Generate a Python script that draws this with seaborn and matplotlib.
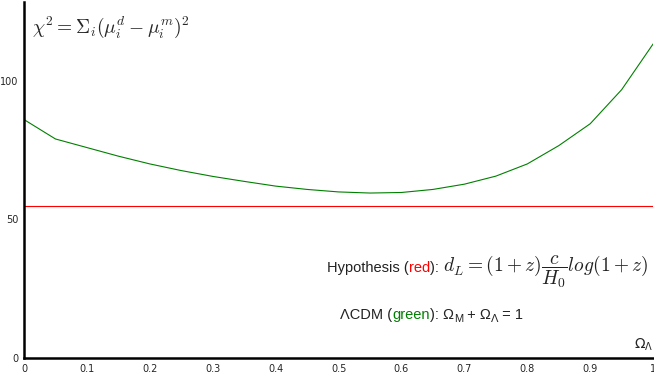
import matplotlib
matplotlib.use("Agg")
import matplotlib.pyplot as plt
import pandas as pd
import seaborn as sns

# chi^2 of the LCDM fit vs Omega_Lambda, and of the hypothesis (flat)
omega_lambda = [0.0, 0.05, 0.1, 0.15, 0.2, 0.25, 0.3, 0.35, 0.4, 0.45, 0.5,
                0.55, 0.6, 0.65, 0.7, 0.75, 0.8, 0.85, 0.9, 0.95, 1.0]
chi2_lcdm = [86.0, 79.0, 75.9, 72.8, 70.0, 67.6, 65.5, 63.7, 62.0, 60.8, 59.9,
             59.5, 59.7, 60.8, 62.7, 65.6, 70.0, 76.6, 84.5, 96.8, 113.3]
chi2_hypothesis = [55.0] * len(omega_lambda)

x_ticks = [0, 0.1, 0.2, 0.3, 0.4, 0.5, 0.6, 0.7, 0.8, 0.9, 1]
x_tick_labels = ["0", "0.1", "0.2", "0.3", "0.4", "0.5", "0.6", "0.7", "0.8", "0.9", "1"]
y_ticks = [0, 50, 100]

df = pd.DataFrame({"omega": omega_lambda, "lcdm": chi2_lcdm, "hyp": chi2_hypothesis})

sns.set_style("white")
plt.rcParams["mathtext.fontset"] = "cm"

fig = plt.figure(figsize=(6.54, 3.77), dpi=100)
ax = fig.add_axes([0.0367, 0.0504, 0.962, 0.945])

sns.lineplot(data=df, x="omega", y="hyp", color="red", linewidth=0.8, ax=ax)
sns.lineplot(data=df, x="omega", y="lcdm", color="green", linewidth=0.8, ax=ax)

ax.set_xlim(0, 1)
ax.set_ylim(0, 128.5)
ax.set_xticks(x_ticks)
ax.set_xticklabels(x_tick_labels)
ax.set_yticks(y_ticks)
ax.tick_params(length=0, labelsize=7, pad=4)
ax.set_xlabel("")
ax.set_ylabel("")
for side in ["top", "right"]:
    ax.spines[side].set_visible(False)
for side in ["left", "bottom"]:
    ax.spines[side].set_color("black")
    ax.spines[side].set_linewidth(1.8)

ax.text(0.012, 0.965, r"$\chi^2 = \Sigma_i(\mu_i^d - \mu_i^m)^2$",
        transform=ax.transAxes, fontsize=14, va="top", ha="left")
ax.text(1.0, 0.015, r"$\Omega_\Lambda$", transform=ax.transAxes,
        fontsize=10, ha="right", va="bottom", family="DejaVu Sans",
        math_fontfamily="dejavusans")


def colored_line(x, y, parts):
    # draw text pieces one after another on the same baseline
    fig.canvas.draw()
    renderer = fig.canvas.get_renderer()
    x0, y0 = ax.transAxes.transform((x, y))
    for s, color, size, math_font, dy in parts:
        t = fig.text(x0 / fig.dpi / fig.get_figwidth(),
                     (y0 + dy) / fig.dpi / fig.get_figheight(),
                     s, color=color, fontsize=size, va="baseline", ha="left",
                     family="Liberation Sans", math_fontfamily=math_font)
        bb = t.get_window_extent(renderer)
        x0 = bb.x1


dark = "#222222"
colored_line(0.482, 0.24, [
    ("Hypothesis (", dark, 10.5, "dejavusans", 0),
    ("red", "red", 10.5, "dejavusans", 0),
    ("): ", dark, 10.5, "dejavusans", 0),
    (r"$d_L = (1+z)\dfrac{c}{H_0}log(1+z)$", dark, 14, "cm", 0),
])
colored_line(0.503, 0.11, [
    ("\u039bCDM (", dark, 10.5, "dejavusans", 0),
    ("green", "green", 10.5, "dejavusans", 0),
    ("): \u03a9", dark, 10.5, "dejavusans", 0),
    ("M", dark, 8, "dejavusans", -3),
    (" + \u03a9", dark, 10.5, "dejavusans", 0),
    ("\u039b", dark, 8, "dejavusans", -3),
    (" = 1", dark, 10.5, "dejavusans", 0),
])

fig.savefig("out.png", dpi=100)
plt.close(fig)
